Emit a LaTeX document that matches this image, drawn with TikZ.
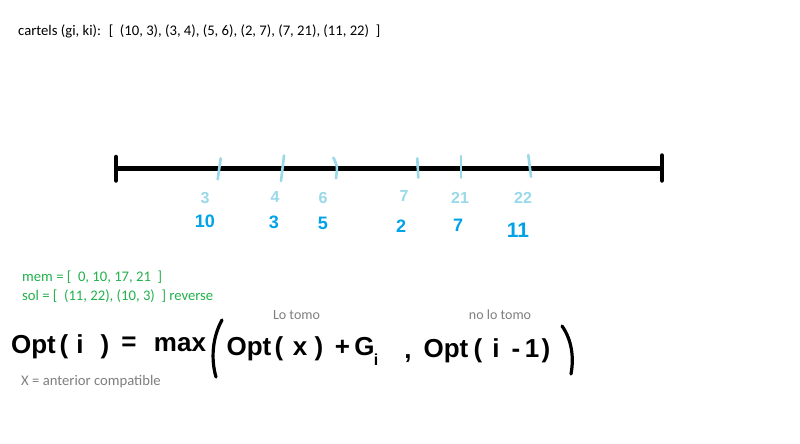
\documentclass[tikz,border=0pt]{standalone}
\usepackage{fontspec}
\setmainfont{Carlito}
\newfontfamily\handfont{Liberation Sans}
\definecolor{lightb}{HTML}{99D9EA}
\definecolor{darkb}{HTML}{00A2E8}
\definecolor{txtgreen}{HTML}{22B14C}
\definecolor{txtgrey}{HTML}{7F7F7F}
\begin{document}
\begin{tikzpicture}[x=1pt,y=-1pt,
  typed/.style={font=\fontsize{14.67}{17}\selectfont, anchor=base west, inner sep=0pt},
  greentxt/.style={typed, text=txtgreen},
  greytxt/.style={font=\fontsize{14}{17}\selectfont, anchor=base, inner sep=0pt, text=txtgrey},
  lightlbl/.style={font=\handfont\bfseries\fontsize{16}{18}\selectfont, text=lightb, inner sep=0pt},
  darklbl/.style={font=\handfont\bfseries\fontsize{18}{20}\selectfont, text=darkb, inner sep=0pt},
  hw/.style={font=\handfont\bfseries\fontsize{26}{30}\selectfont, anchor=base, inner sep=0pt},
  axisline/.style={line width=4.5pt, black},
  tickmark/.style={line width=2.6pt, lightb, line cap=round},
  bigparen/.style={line width=3.2pt, black, line cap=round}]
\useasboundingbox[fill=white] (0,0) rectangle (800,444);

% title
\node[typed] (title) at (18,36) {cartels (gi, ki):~ [~ (10, 3), (3, 4), (5, 6), (2, 7), (7, 21), (11, 22)~ ]};

% number line
\coordinate (L) at (116,168.3);
\coordinate (R) at (662,168.3);
\draw[axisline] (L) -- (R);
\draw[axisline, line cap=round] (116,157) -- (116,180.5);
\draw[axisline, line cap=round] (662,155.5) -- (662,180.5);

% ticks
\draw[tickmark] (220.7,158.3) -- (217.7,179.3);
\draw[tickmark] (284,155.5) -- (281,181);
\draw[tickmark] (333.3,157.7) .. controls (337.5,166) .. (336,178.3);
\draw[tickmark] (417.3,158.3) -- (418.3,177.7);
\draw[tickmark] (461,156) -- (461,177.7);
\draw[tickmark] (528.3,155) -- (531,176.7);

% light labels (k)
\node[lightlbl] (k1) at (205,198) {3};
\node[lightlbl] (k2) at (275,197) {4};
\node[lightlbl] (k3) at (323,198) {6};
\node[lightlbl] (k4) at (404,196) {7};
\node[lightlbl] (k5) at (460,198) {21};
\node[lightlbl] (k6) at (523,198) {22};

% dark labels (g)
\node[darklbl] (g1) at (205,221) {10};
\node[darklbl] (g2) at (274,222) {3};
\node[darklbl] (g3) at (323,223) {5};
\node[darklbl] (g4) at (401,226) {2};
\node[darklbl] (g5) at (458,225) {7};
\node[darklbl, font=\handfont\bfseries\fontsize{21}{23}\selectfont] (g6) at (518,230) {11};

% green texts
\node[greentxt] (mem) at (22,281) {mem = [~ 0, 10, 17, 21~ ]};
\node[greentxt] (sol) at (22,300) {sol = [~ (11, 22), (10, 3)~ ] reverse};

% grey labels
\node[greytxt] (lotomo) at (296.5,319.5) {Lo tomo};
\node[greytxt] (nolotomo) at (500,319.5) {no lo tomo};
\node[greytxt, anchor=base west, font=\fontsize{14.67}{17}\selectfont] (xnote) at (21,385) {X = anterior compatible};

% handwritten formula
\node[hw] (f1) at (33.5,353) {Opt};
\node[hw] (f2) at (64,353) {(};
\node[hw] (f3) at (80,353) {i};
\node[hw] (f4) at (105,353) {)};
\node[hw] (f5) at (129,350) {=};
\node[hw] (f6) at (180,351) {max};
\draw[bigparen] (222,320) .. controls (212,338) and (211,360) .. (216,377);
\node[hw] (f7) at (249,355) {Opt};
\node[hw] (f8) at (279,355) {(};
\node[hw] (f9) at (300,355) {x};
\node[hw] (f10) at (319,355) {)};
\node[hw] (f11) at (342.5,355) {+};
\node[hw] (f12) at (364.5,355) {G};
\node[hw, font=\handfont\bfseries\fontsize{16}{19}\selectfont] (f13) at (376,365) {i};
\node[hw] (f14) at (408,358) {,};
\node[hw] (f15) at (446,357) {Opt};
\node[hw] (f16) at (478,357) {(};
\node[hw] (f17) at (496,357) {i};
\node[hw] (f18) at (516,357) {-};
\node[hw] (f19) at (532,357) {1};
\node[hw] (f20) at (546,357) {)};
\draw[bigparen] (562,326) .. controls (572,340) and (574,358) .. (571,374);
\end{tikzpicture}
\end{document}
